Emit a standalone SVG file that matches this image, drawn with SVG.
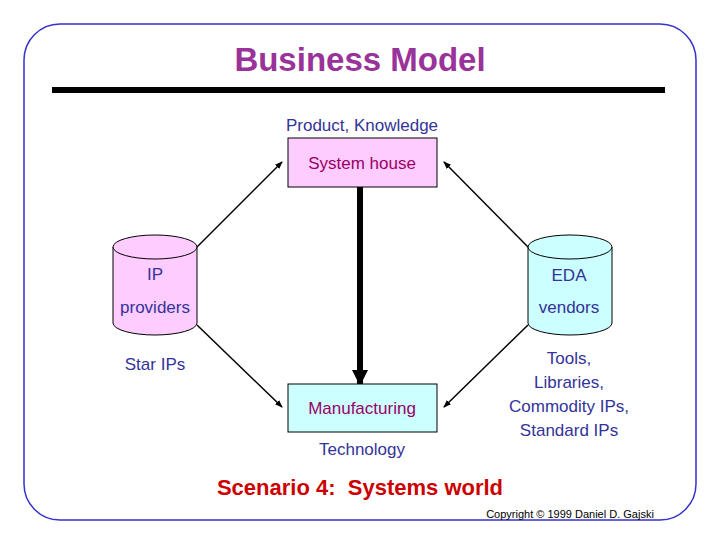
<svg xmlns="http://www.w3.org/2000/svg" width="720" height="540" viewBox="0 0 720 540">
<style>
text{font-family:"Liberation Sans",Arial,sans-serif}
.l{fill:#333399;font-size:17px}
.b{fill:#990066;font-size:17px}
.c{stroke:#000;stroke-width:1.5;fill:none}
</style>
<defs>
<marker id="a" markerWidth="8" markerHeight="8" refX="7" refY="4" orient="auto" markerUnits="userSpaceOnUse"><path d="M0,1 L8,4 L0,7 Z" fill="#000"/></marker>
<marker id="t" markerWidth="16" markerHeight="16" refX="14" refY="8" orient="auto" markerUnits="userSpaceOnUse"><path d="M0,0 L16,8 L0,16 Z" fill="#000"/></marker>
</defs>
<rect width="720" height="540" fill="#fff"/>
<rect x="24" y="24" width="672" height="496" rx="36" fill="none" stroke="#3333cc" stroke-width="1.5"/>
<text x="360" y="71" text-anchor="middle" font-size="33" font-weight="bold" fill="#993399">Business Model</text>
<rect x="52" y="87" width="613" height="6" fill="#000"/>
<text class="l" x="362" y="131" text-anchor="middle">Product, Knowledge</text>
<g id="connectors">
<line class="c" x1="197" y1="247" x2="282" y2="162" marker-end="url(#a)"/>
<line class="c" x1="197" y1="325" x2="282" y2="407" marker-end="url(#a)"/>
<line class="c" x1="528" y1="247" x2="444" y2="162" marker-end="url(#a)"/>
<line class="c" x1="528" y1="325" x2="444" y2="407" marker-end="url(#a)"/>
<line x1="360" y1="187" x2="360" y2="384" stroke="#000" stroke-width="6" marker-end="url(#t)"/>
</g>
<g id="systemhouse"><rect x="288" y="138" width="149" height="49" fill="#ffccff" stroke="#000"/><text class="b" x="362" y="169" text-anchor="middle">System house</text></g>
<g id="manufacturing"><rect x="288" y="384" width="149" height="48" fill="#ccffff" stroke="#000"/><text class="b" x="362" y="414" text-anchor="middle">Manufacturing</text></g>
<g id="ip"><path d="M113,247 V323 A42,12 0 0 0 197,323 V247" fill="#ffccff" stroke="#000"/><ellipse cx="155" cy="247" rx="42" ry="12" fill="#ffccff" stroke="#000"/>
<text class="l" x="155" y="280" text-anchor="middle">IP</text><text class="l" x="155" y="313" text-anchor="middle">providers</text></g>
<g id="eda"><path d="M528,247 V323 A42,12 0 0 0 612,323 V247" fill="#ccffff" stroke="#000"/><ellipse cx="570" cy="247" rx="42" ry="12" fill="#ccffff" stroke="#000"/>
<text class="l" x="569" y="281" text-anchor="middle">EDA</text><text class="l" x="569" y="313" text-anchor="middle">vendors</text></g>
<text class="l" x="155" y="370" text-anchor="middle">Star IPs</text>
<text class="l" x="569" y="364" text-anchor="middle">Tools,</text>
<text class="l" x="569" y="388" text-anchor="middle">Libraries,</text>
<text class="l" x="569" y="412" text-anchor="middle">Commodity IPs,</text>
<text class="l" x="569" y="436" text-anchor="middle">Standard IPs</text>
<text class="l" x="362" y="455" text-anchor="middle">Technology</text>
<text x="360" y="495" text-anchor="middle" font-size="22" font-weight="bold" fill="#cc0000" xml:space="preserve">Scenario 4:  Systems world</text>
<text x="570" y="518" text-anchor="middle" font-size="11" fill="#000">Copyright © 1999 Daniel D. Gajski</text>
</svg>
